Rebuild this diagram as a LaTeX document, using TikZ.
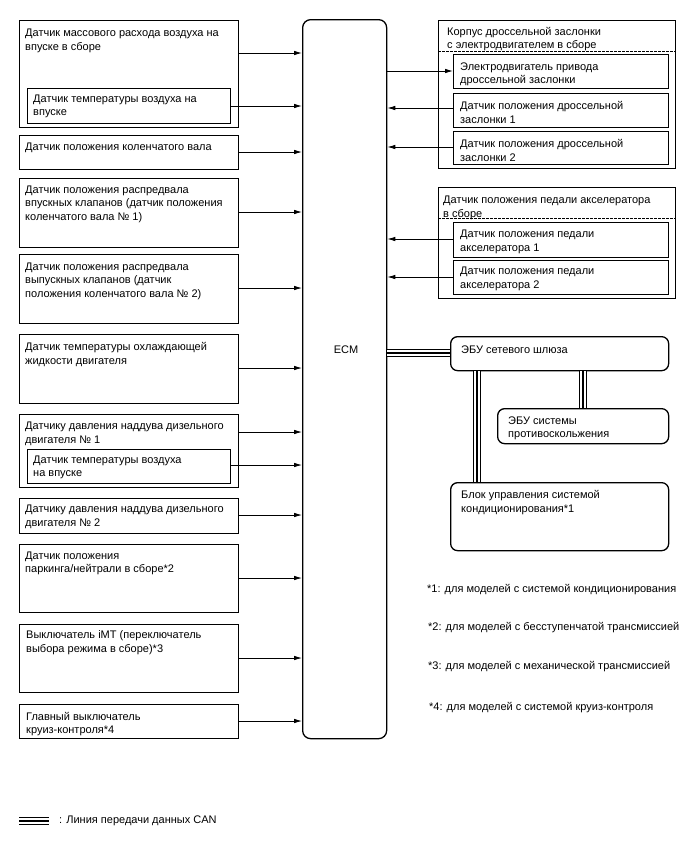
\documentclass[tikz,border=0pt]{standalone}
\usepackage{fontspec}
\setmainfont{Liberation Sans}
\usetikzlibrary{arrows.meta}
\begin{document}
\begin{tikzpicture}[x=1pt,y=-1pt,
  bx/.style 2 args={draw, line width=1.3pt, minimum width=#1, minimum height=#2, anchor=north west, inner sep=0pt},
  tx/.style={anchor=north west, inner sep=0pt, align=left, yshift=-1.5pt, font=\fontsize{11}{13.5}\selectfont},
  nt/.style={anchor=base west, inner sep=0pt, font=\fontsize{11}{13}\selectfont},
  arr/.style={line width=0.8pt, -{Latex[length=8pt,width=4.5pt]}},
  dsh/.style={line width=0.7pt, dash pattern=on 2.5pt off 1.5pt},
  can/.style={line width=1.3pt, preaction={draw, line width=1.3pt, double=white, double distance=6.1pt}}
]
\useasboundingbox (0,0) rectangle (688,852);

% ---------- left column ----------
\node[bx={219pt}{107pt}] (b1) at (19,20) {};
\node[tx] (b1t) at (25,27.7) {Датчик массового расхода воздуха на\\впуске в сборе};
\node[bx={203pt}{35pt}] (b1i) at (27,88) {};
\node[tx] (b1it) at (33,93.2) {Датчик температуры воздуха на\\впуске};
\node[bx={219pt}{34pt}] (b2) at (19,135) {};
\node[tx] (b2t) at (25,141.7) {Датчик положения коленчатого вала};
\node[bx={219pt}{69pt}] (b3) at (19,178) {};
\node[tx] (b3t) at (25,184.2) {Датчик положения распредвала\\впускных клапанов (датчик положения\\коленчатого вала № 1)};
\node[bx={219pt}{69pt}] (b4) at (19,254) {};
\node[tx] (b4t) at (25,261.2) {Датчик положения распредвала\\выпускных клапанов (датчик\\положения коленчатого вала № 2)};
\node[bx={219pt}{69pt}] (b5) at (19,334) {};
\node[tx] (b5t) at (25,340.7) {Датчик температуры охлаждающей\\жидкости двигателя};
\node[bx={219pt}{73pt}] (b6) at (19,414) {};
\node[tx] (b6t) at (25,420.7) {Датчику давления наддува дизельного\\двигателя № 1};
\node[bx={203pt}{34pt}] (b6i) at (27,449) {};
\node[tx] (b6it) at (33,454.2) {Датчик температуры воздуха\\на впуске};
\node[bx={219pt}{35pt}] (b7) at (19,498) {};
\node[tx] (b7t) at (25,503.7) {Датчику давления наддува дизельного\\двигателя № 2};
\node[bx={219pt}{68pt}] (b8) at (19,544) {};
\node[tx] (b8t) at (25,550.2) {Датчик положения\\паркинга/нейтрали в сборе*2};
\node[bx={219pt}{68pt}] (b9) at (19,624) {};
\node[tx] (b9t) at (26,629.2) {Выключатель iMT (переключатель\\выбора режима в сборе)*3};
\node[bx={219pt}{34pt}] (b10) at (19,704) {};
\node[tx] (b10t) at (26,710.2) {Главный выключатель\\круиз-контроля*4};

% ---------- ECM ----------
\node[bx={84pt}{719pt}, rounded corners=8pt] (ecm) at (302,19) {};
\node[inner sep=0pt, font=\fontsize{11}{13}\selectfont] (ecmt) at (346,349.5) {ECM};

% ---------- right column ----------
\node[bx={237pt}{148pt}] (r1) at (438,20) {};
\node[tx] (r1t) at (447,25.2) {Корпус дроссельной заслонки\\с электродвигателем в сборе};
\draw[dsh] (r1.west |- 0,51) -- (r1.east |- 0,51);
\node[bx={215pt}{34pt}] (r1a) at (453,54) {};
\node[tx] (r1at) at (460,60.7) {Электродвигатель привода\\дроссельной заслонки};
\node[bx={215pt}{34pt}] (r1b) at (453,93) {};
\node[tx] (r1bt) at (460,99.7) {Датчик положения дроссельной\\заслонки 1};
\node[bx={215pt}{33pt}] (r1c) at (453,131) {};
\node[tx] (r1ct) at (460,137.7) {Датчик положения дроссельной\\заслонки 2};

\node[bx={237pt}{111pt}] (r2) at (438,187) {};
\node[tx] (r2t) at (443,194.7) {Датчик положения педали акселератора\\в сборе};
\draw[dsh] (r2.west |- 0,218) -- (r2.east |- 0,218);
\node[bx={215pt}{35pt}] (r2a) at (453,222) {};
\node[tx] (r2at) at (460,228.7) {Датчик положения педали\\акселератора 1};
\node[bx={215pt}{34pt}] (r2b) at (453,260) {};
\node[tx] (r2bt) at (460,265.7) {Датчик положения педали\\акселератора 2};

\node[bx={218pt}{34pt}, rounded corners=7pt] (gw) at (450,336) {};
\node[tx] (gwt) at (461,343.7) {ЭБУ сетевого шлюза};
\node[bx={171pt}{35pt}, rounded corners=7pt] (abs) at (497,408) {};
\node[tx] (abst) at (508,414.7) {ЭБУ системы\\противоскольжения};
\node[bx={218pt}{68pt}, rounded corners=7pt] (ac) at (450,482) {};
\node[tx] (act) at (461,488.7) {Блок управления системой\\кондиционирования*1};

% ---------- arrows to / from ECM ----------
\draw[arr] (b1.east |- 0,53) -- (ecm.west |- 0,53);
\draw[arr] (b1i.east |- 0,106) -- (ecm.west |- 0,106);
\draw[arr] (b2.east |- 0,152) -- (ecm.west |- 0,152);
\draw[arr] (b3.east |- 0,212) -- (ecm.west |- 0,212);
\draw[arr] (b4.east |- 0,288) -- (ecm.west |- 0,288);
\draw[arr] (b5.east |- 0,368) -- (ecm.west |- 0,368);
\draw[arr] (b6.east |- 0,432) -- (ecm.west |- 0,432);
\draw[arr] (b6i.east |- 0,465) -- (ecm.west |- 0,465);
\draw[arr] (b7.east |- 0,515) -- (ecm.west |- 0,515);
\draw[arr] (b8.east |- 0,578) -- (ecm.west |- 0,578);
\draw[arr] (b9.east |- 0,658) -- (ecm.west |- 0,658);
\draw[arr] (b10.east |- 0,721) -- (ecm.west |- 0,721);

\draw[arr] (ecm.east |- 0,71) -- (r1a.west |- 0,71);
\draw[arr] (r1b.west |- 0,108) -- (ecm.east |- 0,108);
\draw[arr] (r1c.west |- 0,147) -- (ecm.east |- 0,147);
\draw[arr] (r2a.west |- 0,239) -- (ecm.east |- 0,239);
\draw[arr] (r2b.west |- 0,277) -- (ecm.east |- 0,277);

% ---------- CAN ----------
\draw[can] (ecm.east |- 0,353) -- (gw.west |- 0,353);
\draw[can] (gw.south -| 477,0) -- (ac.north -| 477,0);
\draw[can] (gw.south -| 583,0) -- (abs.north -| 583,0);

% ---------- notes ----------
\node[nt] (n1) at (427,592) {*1: для моделей с системой кондиционирования};
\node[nt] (n2) at (428,630) {*2: для моделей с бесступенчатой трансмиссией};
\node[nt] (n3) at (428,669) {*3: для моделей с механической трансмиссией};
\node[nt] (n4) at (429,710) {*4: для моделей с системой круиз-контроля};

% ---------- legend ----------
\coordinate (lg1) at (19,821);
\coordinate (lg2) at (49,821);
\draw[can] (lg1) -- (lg2);
\node[nt] (lgt) at (59,823) {: Линия передачи данных CAN};
\end{tikzpicture}
\end{document}
